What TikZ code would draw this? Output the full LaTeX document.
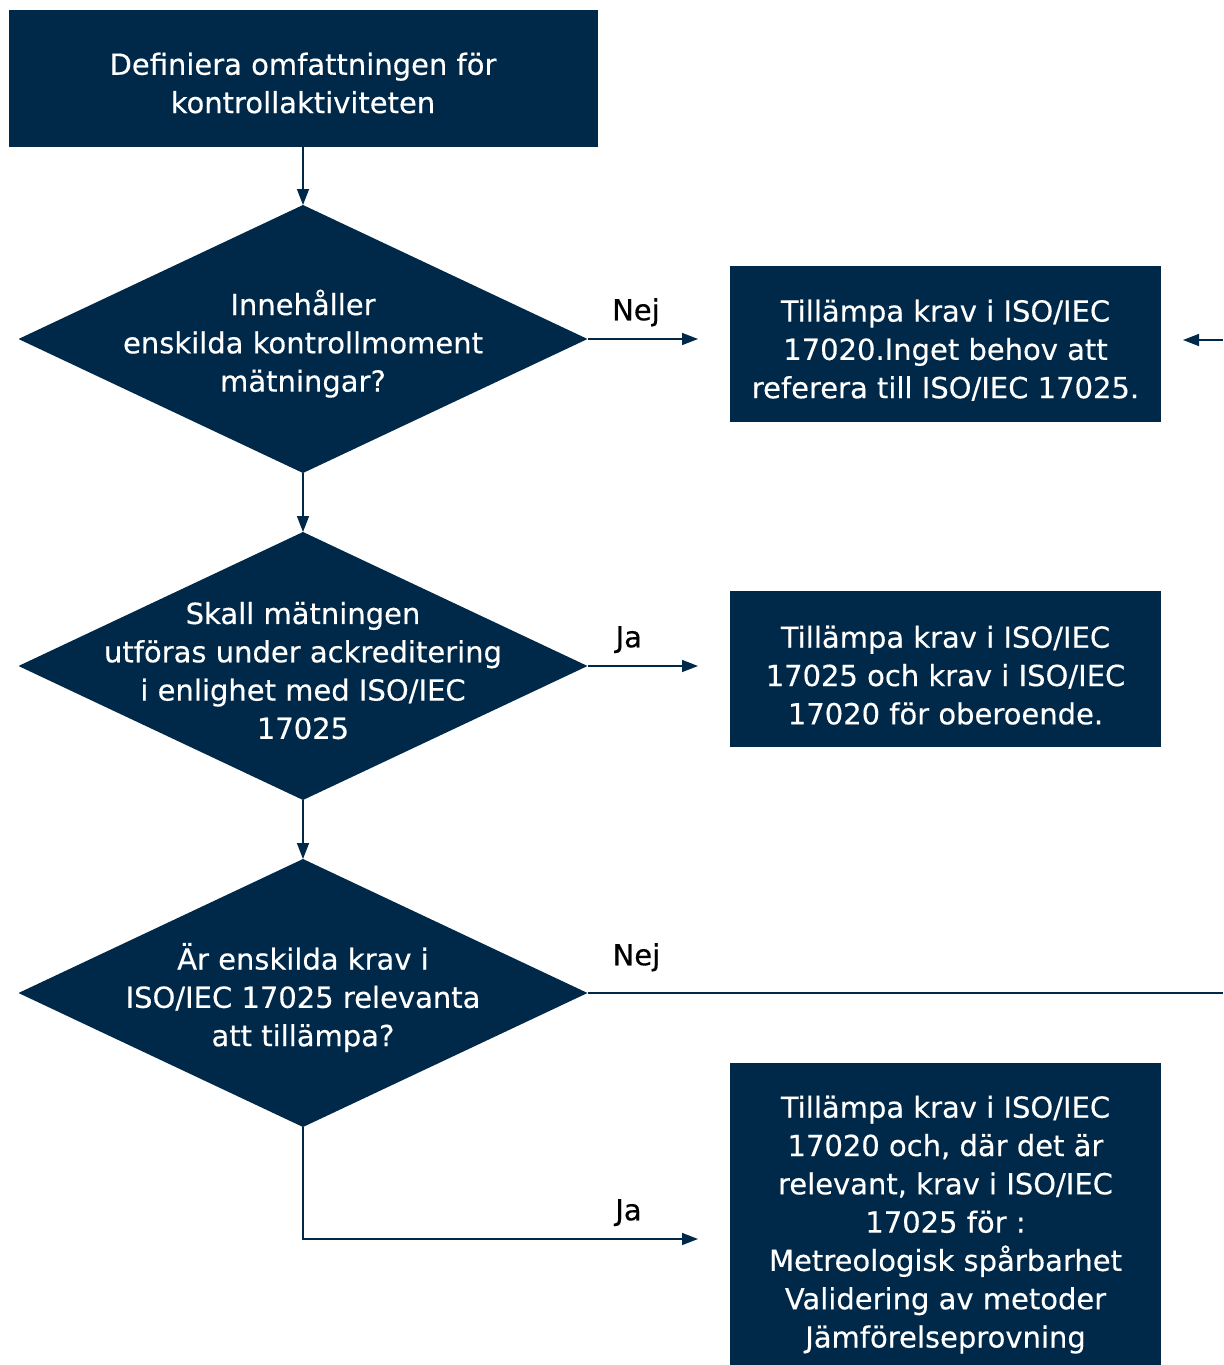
\documentclass[tikz,border=0pt]{standalone}
\usepackage{fontspec}
\setmainfont{DejaVu Sans}[FakeBold=0.4]
\usetikzlibrary{shapes.geometric,arrows.meta}
\definecolor{navy}{RGB}{0,41,73}
\newcommand\fs{\fontsize{14.5}{19.15}\selectfont}
\tikzset{
  box/.style={fill=navy, inner sep=0pt, outer sep=0pt, minimum width=215.5pt, minimum height=78pt},
  decision/.style={diamond, fill=navy, inner sep=0pt, outer sep=0pt, minimum width=284.5pt, minimum height=134pt},
  dtext/.style={text=white, align=center, font=\fs, yshift=-2.3pt},
  conn/.style={draw=navy, line width=0.75pt},
  arr/.style={conn, -{Triangle[length=8pt,width=6pt]}},
  lbl/.style={font=\fs, inner sep=0pt, text height=10.8pt, text depth=3.3pt}
}
\begin{document}
\begin{tikzpicture}[x=0.5pt, y=-0.5pt]
\useasboundingbox (0,0) rectangle (1223,1365);
% steps on the left
\node[box, minimum width=294.5pt, minimum height=68.5pt] (start) at (303,78.5) {};
\node[dtext] (t0) at (start) {Definiera omfattningen för\\kontrollaktiviteten};
\node[decision] (d1) at (303,339) {};
\node[dtext] (q1) at (d1) {Innehåller\\enskilda kontrollmoment\\mätningar?};
\node[decision] (d2) at (303,666) {};
\node[dtext] (q2) at (d2) {Skall mätningen\\utföras under ackreditering\\i enlighet med ISO/IEC\\17025};
\node[decision] (d3) at (303,993) {};
\node[dtext] (q3) at (d3) {Är enskilda krav i\\ISO/IEC 17025 relevanta\\att tillämpa?};
% outcomes on the right
\node[box] (ba) at (945.5,344) {};
\node[dtext, yshift=-0.8pt] (ta) at (ba) {Tillämpa krav i ISO/IEC\\17020.Inget behov att\\referera till ISO/IEC 17025.};
\node[box] (bb) at (945.5,669) {};
\node[dtext, yshift=-0.8pt] (tb) at (bb) {Tillämpa krav i ISO/IEC\\17025 och krav i ISO/IEC\\17020 för oberoende.};
\node[box, minimum height=151pt] (bc) at (945.5,1214) {};
\node[dtext, yshift=-3pt] (tc) at (bc) {Tillämpa krav i ISO/IEC\\17020 och, där det är\\relevant, krav i ISO/IEC\\17025 för :\\Metreologisk spårbarhet\\Validering av metoder\\Jämförelseprovning};
\coordinate (ret) at (1223,340);
\coordinate (out) at (1223,993);
\coordinate (tip) at (698,1239);
% connectors
\draw[arr] (start) -- (d1.north);
\draw[arr] (d1.south) -- (d2.north);
\draw[arr] (d2.south) -- (d3.north);
\draw[arr, shorten >=16pt] (d1.east) -- (d1.east -| ba.west) node[lbl, pos=0.34, above=5.7pt] {Nej};
\draw[arr, shorten >=16pt] (d2.east) -- (d2.east -| bb.west) node[lbl, pos=0.29, above=5.7pt] {Ja};
\draw[conn] (d3.east) -- (out) node[lbl, pos=0.077, above=10.2pt] {Nej};
\draw[arr] (d3.south) |- (tip) node[lbl, pos=0.912, above=5.7pt] {Ja};
\draw[arr, shorten >=11pt] (ret) -- (ret -| ba.east);
\end{tikzpicture}
\end{document}
